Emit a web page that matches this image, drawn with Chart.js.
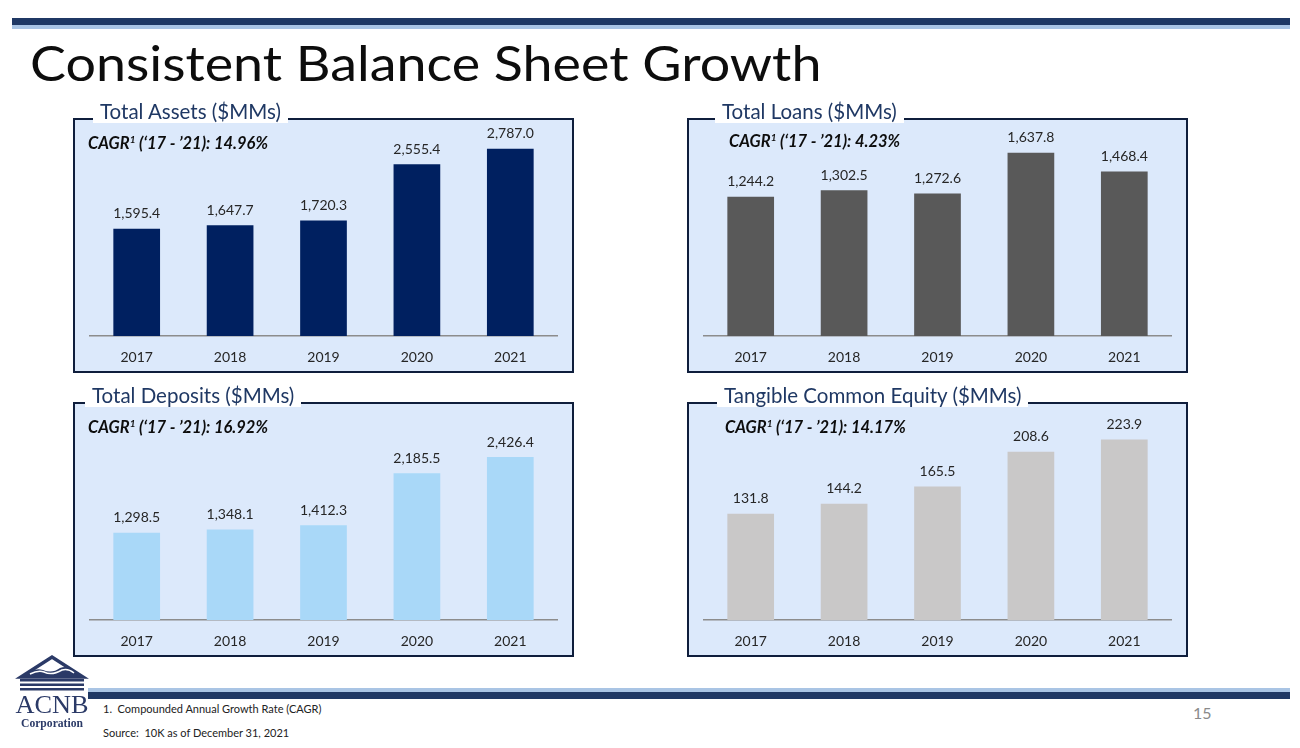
<!DOCTYPE html>
<html>
<head>
  <title>Consistent Balance Sheet Growth</title>
  <script src="https://cdn.jsdelivr.net/npm/chart.js@4.4.0/dist/chart.umd.min.js"></script>
  <style>
    body { margin: 0; background: #fff; font-family: Lato, "Open Sans", sans-serif; }
    #slide { position: relative; width: 1300px; height: 748px; overflow: hidden; }
    .bar-top { position: absolute; left: 12px; top: 18px; width: 1278px; height: 7px; background: #1f3864; }
    .bar-top-lt { position: absolute; left: 12px; top: 25px; width: 1278px; height: 4px; background: #a9c4e4; }
    .bar-bot-lt { position: absolute; left: 88px; top: 688px; width: 1202px; height: 4px; background: #a9c4e4; }
    .bar-bot { position: absolute; left: 88px; top: 692px; width: 1202px; height: 7px; background: #1f3864; }
    h1 { position: absolute; left: 30px; top: 33px; margin: 0; font-weight: 400; font-size: 49px;
         color: #0d0d0d; white-space: nowrap; transform-origin: left top; }
    .panel { position: absolute; box-sizing: border-box; border: 2px solid #0f1e3c; background: #dce9fb; }
    .panel canvas { position: absolute; left: -2px; top: -2px; }
    .ptitle { position: absolute; background: #fff; color: #1f3864; font-size: 20.5px; height: 23px;
              line-height: 23px; padding: 0 7px; white-space: nowrap; }
    .cagr { position: absolute; font-weight: 700; font-style: italic; font-size: 16.5px; color: #0d0d0d; white-space: nowrap; }
    .cagr sup { font-size: 10px; vertical-align: 6px; line-height: 0; }
    .note { position: absolute; left: 103px; font-size: 11px; color: #222; white-space: nowrap; }
    .pnum { position: absolute; left: 1193px; top: 703px; font-size: 16px; color: #8a8a8a; }
  </style>
</head>
<body>
<div id="slide">
  <div class="bar-top"></div><div class="bar-top-lt"></div>
  <h1 id="title">Consistent Balance Sheet Growth</h1>

  <div class="panel" style="left:73px;top:118px;width:501px;height:255px;"><canvas id="assetsChart" width="501" height="255"></canvas></div>
  <div class="panel" style="left:687px;top:118px;width:501px;height:255px;"><canvas id="loansChart" width="501" height="255"></canvas></div>
  <div class="panel" style="left:73px;top:402px;width:501px;height:255px;"><canvas id="depositsChart" width="501" height="255"></canvas></div>
  <div class="panel" style="left:687px;top:402px;width:501px;height:255px;"><canvas id="tceChart" width="501" height="255"></canvas></div>

  <div class="ptitle" style="left:93px;top:100px;">Total Assets ($MMs)</div>
  <div class="ptitle" style="left:715px;top:100px;">Total Loans ($MMs)</div>
  <div class="ptitle" style="left:85px;top:384px;">Total Deposits ($MMs)</div>
  <div class="ptitle" style="left:717px;top:384px;">Tangible Common Equity ($MMs)</div>

  <div class="cagr" style="left:88px;top:133px;">CAGR<sup>1</sup> (‘17 - ’21): 14.96%</div>
  <div class="cagr" style="left:729px;top:131px;">CAGR<sup>1</sup> (‘17 - ’21): 4.23%</div>
  <div class="cagr" style="left:88px;top:417px;">CAGR<sup>1</sup> (‘17 - ’21): 16.92%</div>
  <div class="cagr" style="left:725px;top:417px;">CAGR<sup>1</sup> (‘17 - ’21): 14.17%</div>

  <div class="bar-bot-lt"></div><div class="bar-bot"></div>
  <div class="note" style="top:702px;">1.&nbsp; Compounded Annual Growth Rate (CAGR)</div>
  <div class="note" style="top:726px;">Source:&nbsp; 10K as of December 31, 2021</div>
  <div class="pnum">15</div>

  <!-- logo -->
  <svg style="position:absolute;left:10px;top:652px;" width="85" height="85" viewBox="0 0 85 85">
    <path d="M11 25 L42 5 L73 25 Z" fill="none" stroke="#2b3a67" stroke-width="3.5"/>
    <path d="M14 24 Q24 15 33 18 Q42 22 50 16 Q60 12 70 24 Z" fill="#2b3a67"/>
    <path d="M20 22 Q28 18 34 20 Q42 24 52 18 Q58 16 64 21" fill="none" stroke="#fff" stroke-width="1.5"/>
    <rect x="10" y="27" width="64" height="2.5" fill="#2b3a67"/>
    <rect x="10" y="31.5" width="64" height="2.5" fill="#2b3a67"/>
    <rect x="10" y="36" width="64" height="2.5" fill="#2b3a67"/>
    <text x="42" y="61" text-anchor="middle" font-family="Liberation Serif" font-size="26" fill="#2b3a67" textLength="73" lengthAdjust="spacingAndGlyphs">ACNB</text>
    <text x="42" y="75" text-anchor="middle" font-family="Liberation Serif" font-size="13" font-weight="700" fill="#2b3a67" textLength="62" lengthAdjust="spacingAndGlyphs">Corporation</text>
  </svg>
</div>

<script>
  // Datos
  const years = ['2017', '2018', '2019', '2020', '2021'];
  const totalAssets = [1595.4, 1647.7, 1720.3, 2555.4, 2787.0];
  const totalLoans = [1244.2, 1302.5, 1272.6, 1637.8, 1468.4];
  const totalDeposits = [1298.5, 1348.1, 1412.3, 2185.5, 2426.4];
  const tangibleEquity = [131.8, 144.2, 165.5, 208.6, 223.9];

  // titulo ajustado al ancho del original
  const title = document.getElementById('title');
  title.style.transform = 'scaleX(' + (792 / title.offsetWidth) + ')';

  const valueLabels = {
    id: 'valueLabels',
    afterDatasetsDraw(chart) {
      const ctx = chart.ctx;
      const meta = chart.getDatasetMeta(0);
      const data = chart.data.datasets[0].data;
      ctx.save();
      ctx.font = '14px Lato, sans-serif';
      ctx.fillStyle = '#262626';
      ctx.textAlign = 'center';
      ctx.textBaseline = 'bottom';
      meta.data.forEach(function(bar, i) {
        const txt = data[i].toLocaleString('en-US', { minimumFractionDigits: 1, maximumFractionDigits: 1 });
        ctx.fillText(txt, bar.x, bar.y - 8);
      });
      ctx.restore();
    }
  };

  function makeChart(id, values, color, maxY) {
    return new Chart(document.getElementById(id), {
      type: 'bar',
      data: {
        labels: years,
        datasets: [{ data: values, backgroundColor: color, barPercentage: 0.5, categoryPercentage: 1.0 }]
      },
      options: {
        responsive: false,
        animation: false,
        layout: { padding: { top: 16.5, left: 17, right: 17, bottom: 0 } },
        plugins: { legend: { display: false }, tooltip: { enabled: false } },
        scales: {
          x: {
            grid: { display: false, drawTicks: false },
            border: { display: true, color: '#8c8c8c', width: 1.5 },
            ticks: { color: '#262626', font: { family: 'Lato', size: 14 }, padding: 13 },
            afterFit: function(axis) { axis.height = 37; }
          },
          y: { display: false, min: 0, max: maxY }
        }
      },
      plugins: [valueLabels]
    });
  }

  makeChart('assetsChart', totalAssets, '#002060', 3000);
  makeChart('loansChart', totalLoans, '#595959', 1800);
  makeChart('depositsChart', totalDeposits, '#a9d8f8', 3000);
  makeChart('tceChart', tangibleEquity, '#c9c8c8', 250);
</script>
</body>
</html>
